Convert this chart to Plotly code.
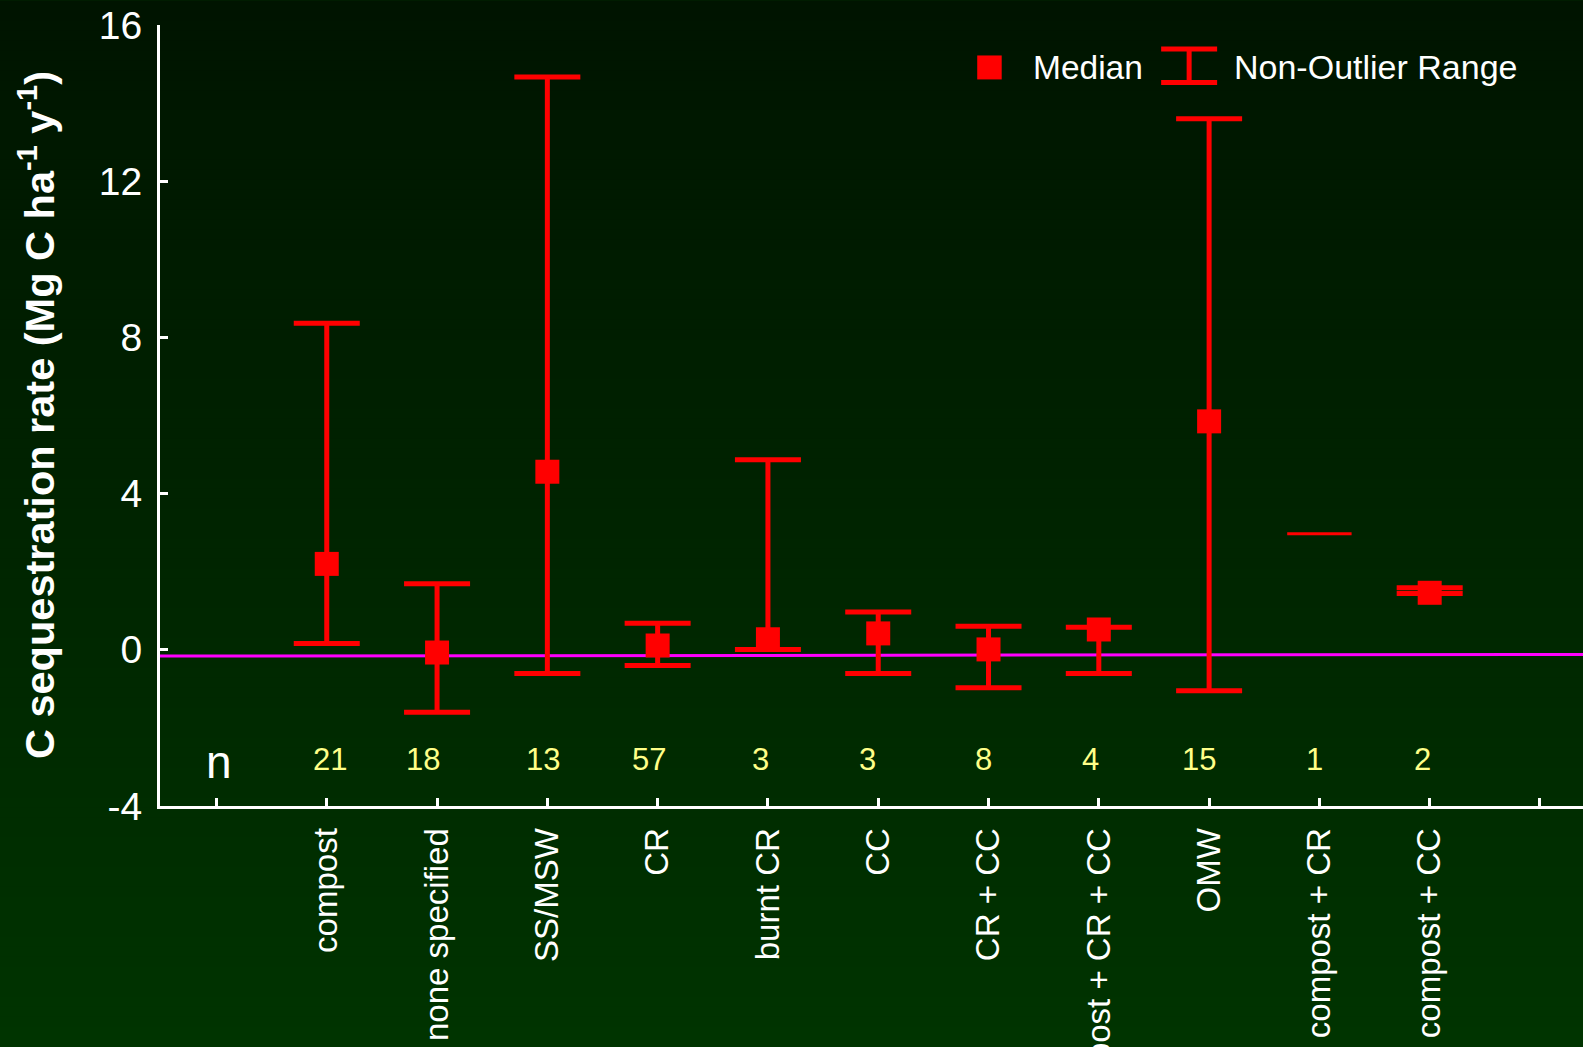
import plotly.graph_objects as go

# ---- data ----
categories = ["compost", "none specified", "SS/MSW", "CR", "burnt CR", "CC",
              "CR + CC", "compost + CR + CC", "OMW", "compost + CR", "compost + CC"]
median = [2.2, -0.07, 4.56, 0.11, 0.27, 0.42, 0.01, 0.52, 5.85, None, 1.46]
upper = [8.36, 1.69, 14.67, 0.68, 4.87, 0.97, 0.60, 0.58, 13.6, None, 1.59]
lower = [0.16, -1.60, -0.61, -0.40, 0.01, -0.61, -0.97, -0.61, -1.05, None, 1.44]
single_value = [None, None, None, None, None, None, None, None, None, 2.97, None]
counts = [21, 18, 13, 57, 3, 3, 8, 4, 15, 1, 2]
ref_line_x = [-0.512, 12.39]
ref_line_y = [-0.16, -0.12]
y_ticks = [-4, 0, 4, 8, 12, 16]
y_tick_labels = ["-4", "0", "4", "8", "12", "16"]

# small horizontal nudges of the count labels (px), as placed in the original
count_shift = [3, -14, -4, -9, -7, -11, -5, -8, -10, -5, -7]

positions = list(range(1, len(categories) + 1))
err_plus = [None if m is None else u - m for m, u in zip(median, upper)]
err_minus = [None if m is None else m - l for m, l in zip(median, lower)]

RED = "#ff0000"
FONT = "Arial, Liberation Sans, sans-serif"

fig = go.Figure()

# reference line
fig.add_trace(go.Scatter(x=ref_line_x, y=ref_line_y, mode="lines",
                         line=dict(color="#ff00ff", width=3), hoverinfo="skip",
                         showlegend=False))

# median + non-outlier range
fig.add_trace(go.Scatter(
    x=positions, y=median, mode="markers",
    marker=dict(symbol="square", size=24, color=RED, line=dict(width=0)),
    error_y=dict(type="data", symmetric=False, array=err_plus, arrayminus=err_minus,
                 color=RED, thickness=5, width=33),
    showlegend=False))

# single observation
fig.add_trace(go.Scatter(
    x=positions, y=single_value, mode="markers",
    marker=dict(symbol="line-ew", size=46, color=RED, line=dict(width=3, color=RED)),
    showlegend=False))

# ---- layout geometry ----
W, H = 1583, 1047
L, R, T, B = 159.5, 0, 24.5, 240.5
pw, ph = W - L - R, H - T - B


def px_x(px):
    return (px - L) / pw


def px_y(py):
    return (H - B - py) / ph


# background gradient bands
shapes = []
nb = 105
top_c = (0, 20, 0)
bot_c = (0, 52, 0)
for i in range(nb):
    f = (i + 0.5) / nb
    c = tuple(round(top_c[k] + (bot_c[k] - top_c[k]) * f) for k in range(3))
    y0 = H * i / nb
    y1 = H * (i + 1) / nb + 1
    shapes.append(dict(type="rect", xref="paper", yref="paper", layer="below",
                       x0=px_x(-5), x1=px_x(W + 5), y0=px_y(y1), y1=px_y(y0),
                       fillcolor="rgb(%d,%d,%d)" % c, line=dict(width=0)))

# legend: square marker
shapes.append(dict(type="rect", xref="paper", yref="paper",
                   x0=px_x(977), x1=px_x(1001.5), y0=px_y(79), y1=px_y(55),
                   fillcolor=RED, line=dict(width=0)))
# legend: range glyph
for (xa, ya, xb, yb) in [(1161, 48.5, 1217, 48.5), (1161, 82, 1217, 82), (1189, 48.5, 1189, 82)]:
    shapes.append(dict(type="line", xref="paper", yref="paper",
                       x0=px_x(xa), x1=px_x(xb), y0=px_y(ya), y1=px_y(yb),
                       line=dict(color=RED, width=5)))

annotations = [
    dict(text="Median", xref="paper", yref="paper", x=px_x(1031), y=px_y(67),
         xanchor="left", yanchor="middle", showarrow=False,
         font=dict(family=FONT, size=33.5, color="white")),
    dict(text="Non-Outlier Range", xref="paper", yref="paper", x=px_x(1232), y=px_y(67),
         xanchor="left", yanchor="middle", showarrow=False,
         font=dict(family=FONT, size=34, color="white")),
    dict(text="C sequestration rate (Mg C ha<sup>-1</sup> y<sup>-1</sup>)",
         xref="paper", yref="paper", x=px_x(36), y=0.5, textangle=-90,
         xanchor="center", yanchor="middle", showarrow=False,
         font=dict(family=FONT, size=41.5, color="white", weight="bold")),
    dict(text="n", x=0, y=-2.87, xref="x", yref="y", showarrow=False, xshift=3,
         font=dict(family=FONT, size=46, color="white")),
]
for p, n, s in zip(positions, counts, count_shift):
    annotations.append(dict(text=str(n), x=p, y=-2.8, xref="x", yref="y",
                            showarrow=False, xshift=s,
                            font=dict(family=FONT, size=31, color="#ffff88")))

fig.update_layout(
    width=W, height=H,
    margin=dict(l=L, r=R, t=T, b=B, pad=0),
    paper_bgcolor="rgb(0,36,0)",
    plot_bgcolor="rgba(0,0,0,0)",
    shapes=shapes,
    annotations=annotations,
    showlegend=False,
    xaxis=dict(range=ref_line_x, tickmode="array",
               tickvals=[0] + positions + [len(categories) + 1],
               ticktext=[""] + categories + [""],
               tickangle=-90, ticks="inside", ticklen=8, tickwidth=3, tickcolor="white",
               showline=True, linecolor="white", linewidth=3, showgrid=False,
               zeroline=False, automargin=False, ticklabelstandoff=6,
               tickfont=dict(family=FONT, size=33, color="white")),
    yaxis=dict(range=[-4, 16], tickmode="array", tickvals=y_ticks, ticktext=y_tick_labels,
               ticks="inside", ticklen=8, tickwidth=3, tickcolor="white",
               showline=True, linecolor="white", linewidth=3, showgrid=False,
               zeroline=False, automargin=False, ticklabelstandoff=7,
               tickfont=dict(family=FONT, size=39, color="white")),
)

fig.write_html("out.html", config={"displayModeBar": False},
               post_script="document.body.style.margin='0';")
